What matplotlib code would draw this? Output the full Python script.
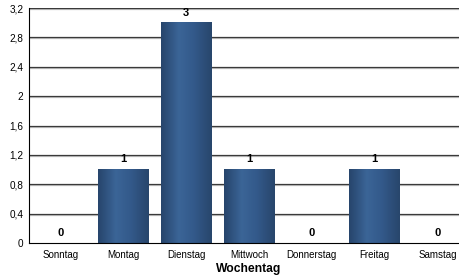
import numpy as np
import matplotlib
matplotlib.use('Agg')
import matplotlib.pyplot as plt
import matplotlib.patheffects as pe
from matplotlib.colors import LinearSegmentedColormap

days = ['Sonntag', 'Montag', 'Dienstag', 'Mittwoch', 'Donnerstag', 'Freitag', 'Samstag']
counts = [0, 1, 3, 1, 0, 1, 0]
yticks = [0, 0.4, 0.8, 1.2, 1.6, 2, 2.4, 2.8, 3.2]
ylabels = ['0', '0,4', '0,8', '1,2', '1,6', '2', '2,4', '2,8', '3,2']

plt.rcParams['font.family'] = ['Liberation Sans', 'DejaVu Sans']

fig = plt.figure(figsize=(4.6, 2.79), dpi=100)
ax = fig.add_axes([29 / 460, 36 / 279, 440 / 460, 235 / 279])

# gridlines with a thin light shadow beneath
for y in yticks[1:]:
    ax.axhline(y, color='#3a3a3a', linewidth=0.9, zorder=1,
               path_effects=[pe.SimpleLineShadow(offset=(0, -0.8), shadow_color='#c0c0c0', alpha=1), pe.Normal()])

cmap = LinearSegmentedColormap.from_list('bar', [(0, '#27456c'), (0.35, '#3b6597'), (0.65, '#33598a'), (1, '#28466c')])
grad = np.linspace(0, 1, 64).reshape(1, -1)
w = 0.81
for i, v in enumerate(counts):
    if v > 0:
        ax.imshow(grad, cmap=cmap, aspect='auto', extent=[i - w / 2, i + w / 2, 0, v], zorder=2)
    ax.text(i, v + 0.07, str(v), ha='center', va='bottom', fontsize=8, fontweight='bold', zorder=3)

ax.set_xlim(-0.5, len(days) - 0.5)
ax.set_ylim(0, 3.2)

ax.set_xticks(range(len(days)))
ax.set_xticklabels(days, fontsize=7)
ax.set_yticks(yticks)
ax.set_yticklabels(ylabels, fontsize=7.2)
ax.tick_params(axis='x', length=0, pad=5)
ax.tick_params(axis='y', length=0, pad=4)
ax.set_xlabel('Wochentag', fontsize=8.7, fontweight='bold', labelpad=2)

for s in ['top', 'right']:
    ax.spines[s].set_visible(False)
ax.spines['left'].set_color('black')
ax.spines['bottom'].set_color('black')

fig.savefig('out.png', dpi=100)
